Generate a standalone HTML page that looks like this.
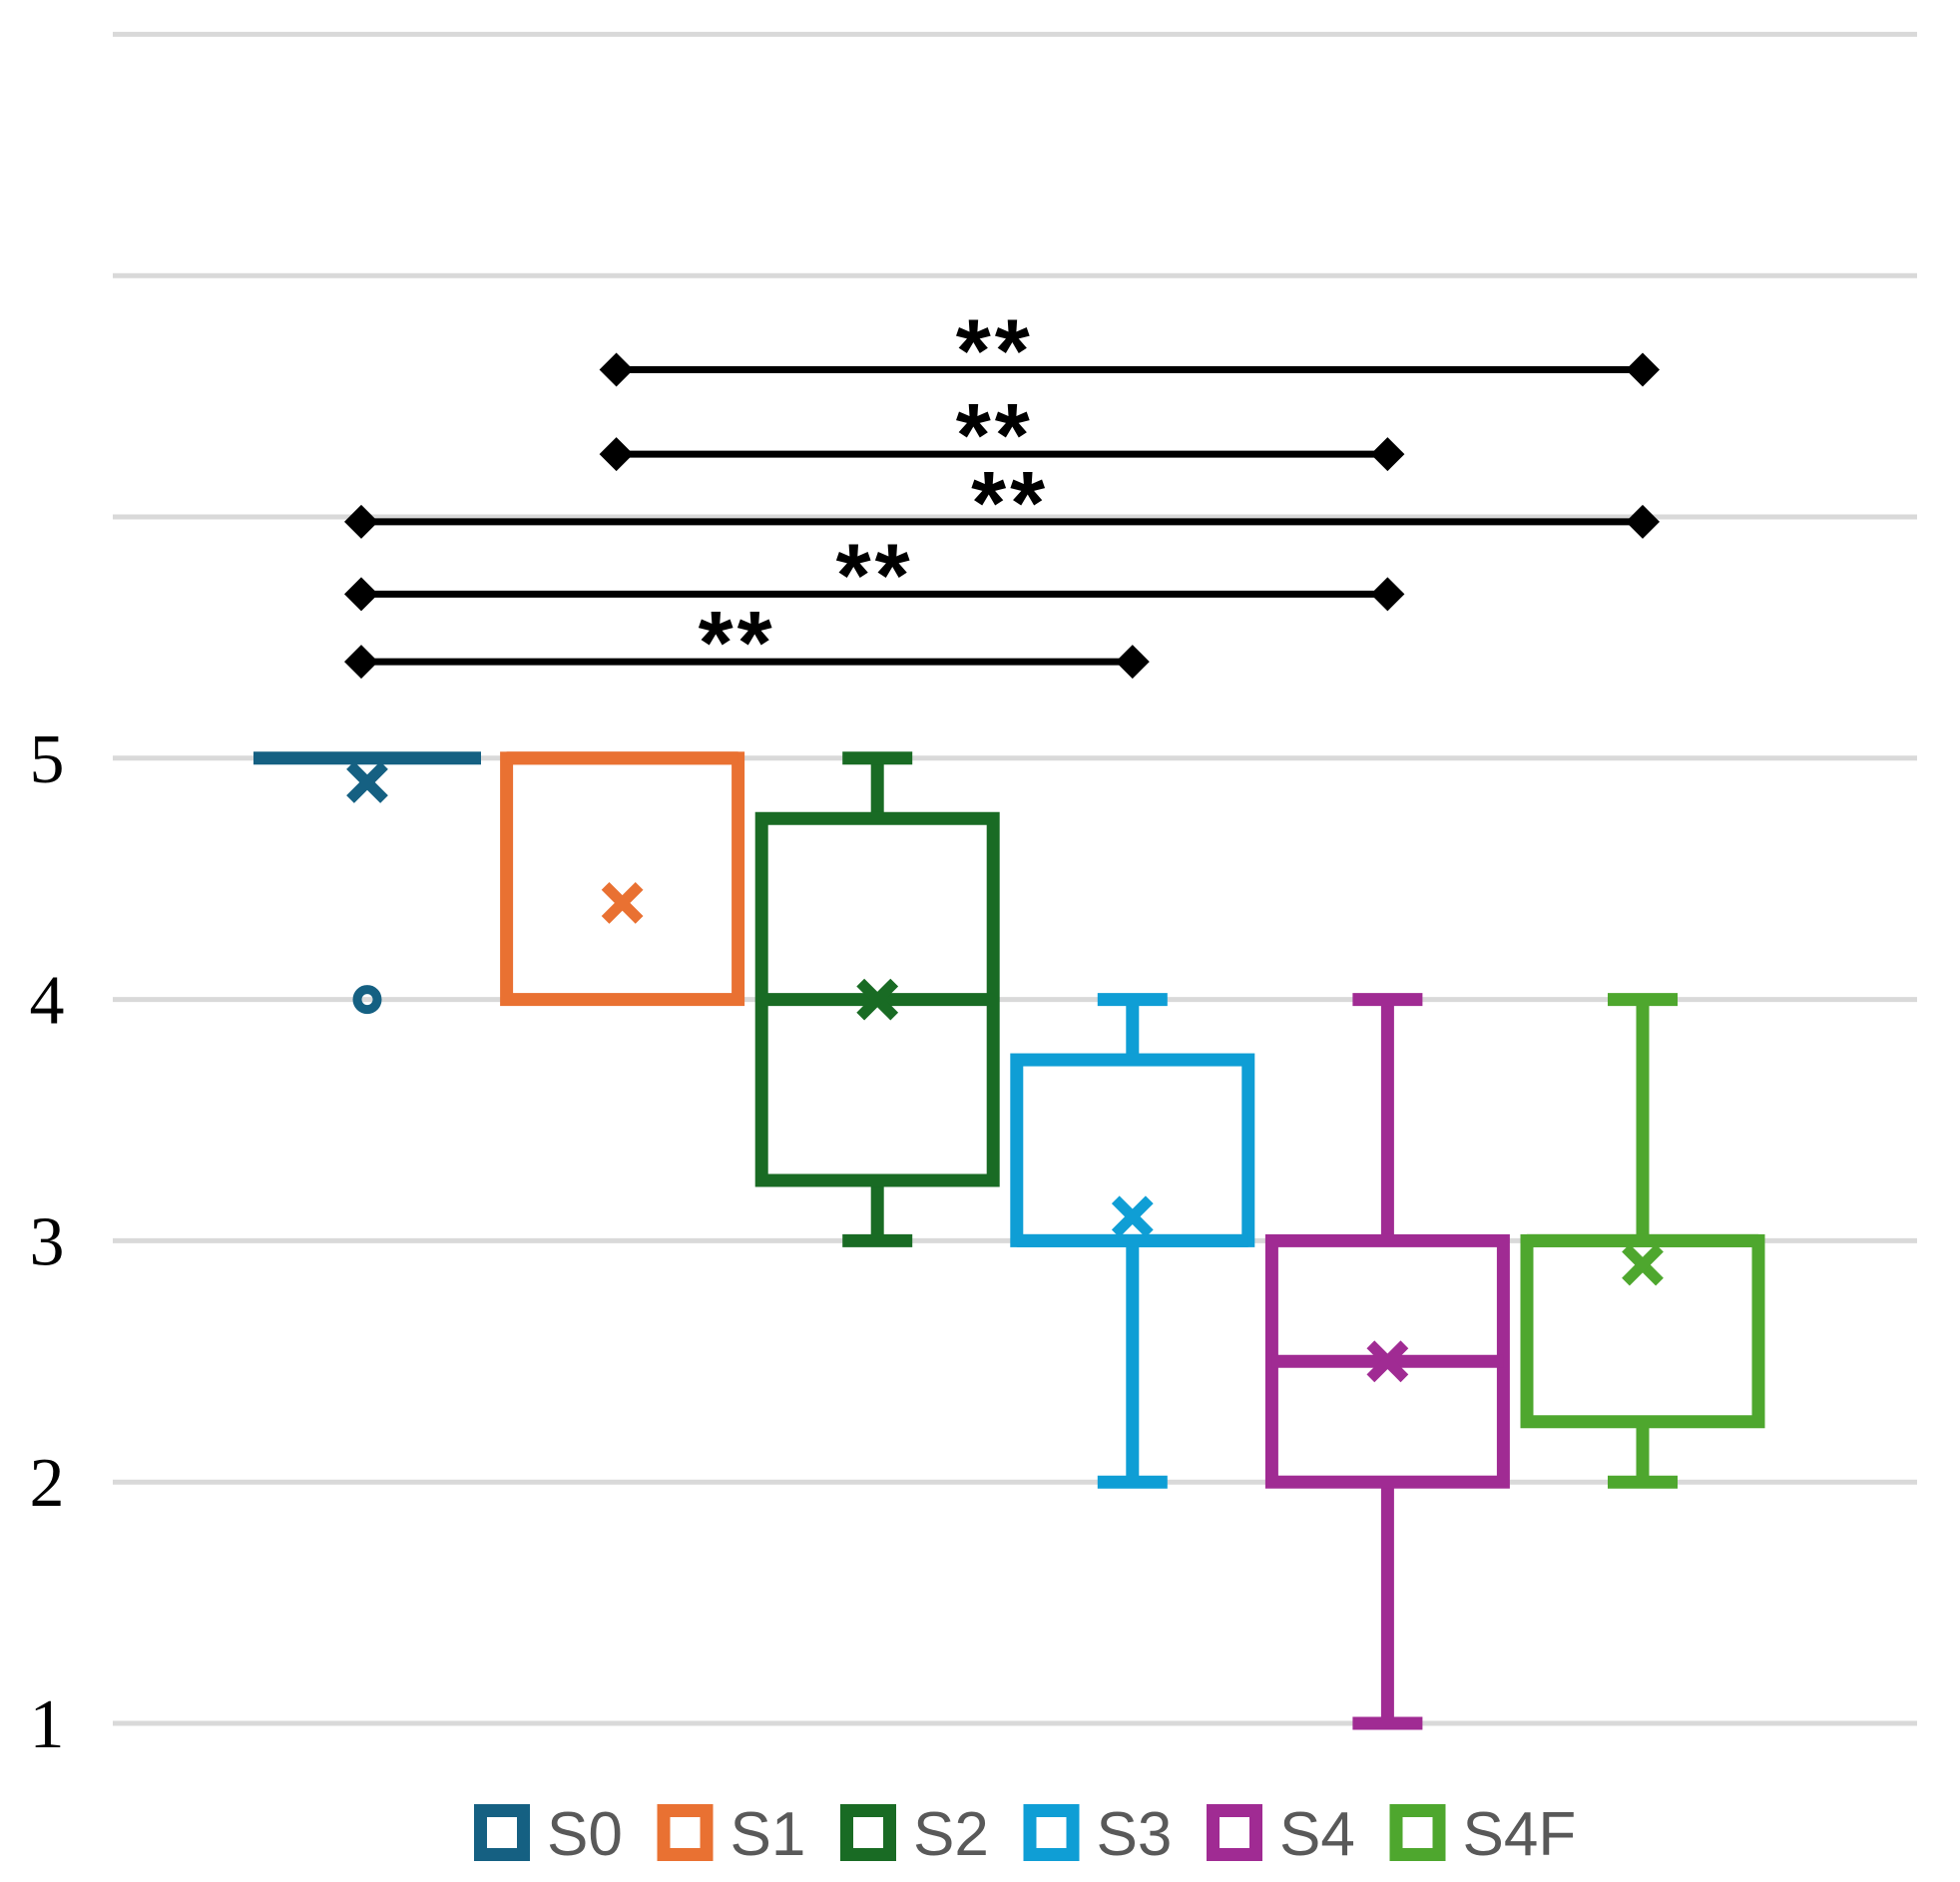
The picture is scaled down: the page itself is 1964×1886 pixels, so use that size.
<!DOCTYPE html>
<html><head><meta charset="utf-8"><style>
html,body{margin:0;padding:0;background:#fff;}
svg{display:block;}
</style></head><body>
<svg id="chart" width="1964" height="1886" viewBox="0 0 1964 1886" xmlns="http://www.w3.org/2000/svg"></svg>
<script>
const categories = ["S0","S1","S2","S3","S4","S4F"];
const colors = ["#156082","#e97132","#196b24","#0f9ed5","#a02b93","#4ea72e"];
const mins = [5,4,3,2,1,2];
const q1s = [5,4,3.25,3,2,2.25];
const medians = [5,5,4,3,2.5,3];
const q3s = [5,5,4.75,3.75,3,3];
const maxs = [5,5,5,4,4,4];
const means = [4.9,4.4,4.0,3.1,2.5,2.9];
const outliers = [[4],[],[],[],[],[]];
const gridValues = [1,2,3,4,5,6,7,8];
const tickLabels = ["1","2","3","4","5"];
const sigFrom = [1,1,0,0,0];
const sigTo = [5,4,5,4,3];
const sigLevel = [6.61,6.26,5.98,5.68,5.40];
const sigStarPos = [2.46,2.46,2.52,1.99,1.45];
const sigLabels = ["**","**","**","**","**"];

const NS="http://www.w3.org/2000/svg";
const svg=document.getElementById('chart');
function y(v){return 1727-(v-1)*241.8;}
function x(i){return 368+i*255.6;}
function mk(tag,attrs,parent){const e=document.createElementNS(NS,tag);for(const k in attrs)e.setAttribute(k,attrs[k]);(parent||svg).appendChild(e);return e;}

const grid=mk('g',{});


gridValues.forEach(v=>{const l=mk('line',{x1:113,x2:1921,y1:y(v),y2:y(v),stroke:'#d9d9d9','stroke-width':5},grid);

});

tickLabels.forEach(t=>{const e=mk('text',{x:47,y:y(+t)+24,'text-anchor':'middle','font-family':'Liberation Serif, serif','font-size':70,fill:'#000'});e.textContent=t;

});

const HW=116, CAP=35, SW=13;
categories.forEach((c,i)=>{
  const g=mk('g',{stroke:colors[i],'stroke-width':SW,fill:'none'});
  
  
  const cx=x(i);
  if(maxs[i]>q3s[i]){mk('line',{x1:cx,x2:cx,y1:y(q3s[i]),y2:y(maxs[i])},g);mk('line',{x1:cx-CAP,x2:cx+CAP,y1:y(maxs[i]),y2:y(maxs[i])},g);}
  if(mins[i]<q1s[i]){mk('line',{x1:cx,x2:cx,y1:y(q1s[i]),y2:y(mins[i])},g);mk('line',{x1:cx-CAP,x2:cx+CAP,y1:y(mins[i]),y2:y(mins[i])},g);}
  if(q3s[i]>q1s[i]){mk('rect',{x:cx-HW,y:y(q3s[i]),width:2*HW,height:y(q1s[i])-y(q3s[i])},g);
    mk('line',{x1:cx-HW,x2:cx+HW,y1:y(medians[i]),y2:y(medians[i])},g);}
  else{mk('line',{x1:cx-114,x2:cx+114,y1:y(q3s[i]),y2:y(q3s[i])},g);}
  const my=y(means[i]);
  const m=mk('g',{'stroke-width':11},g);
  
  
  mk('line',{x1:cx-17,y1:my-17,x2:cx+17,y2:my+17},m);
  mk('line',{x1:cx-17,y1:my+17,x2:cx+17,y2:my-17},m);
  outliers[i].forEach(o=>{const p=mk('circle',{cx:cx,cy:y(o),r:10,'stroke-width':9},g);
    
    });
});

sigFrom.forEach((f,k)=>{
  const g=mk('g',{});
  
  
  const yy=y(sigLevel[k]), x1=x(f)-6, x2=x(sigTo[k]);
  mk('line',{x1:x1,x2:x2,y1:yy,y2:yy,stroke:'#000','stroke-width':7},g);
  [x1,x2].forEach(px=>mk('polygon',{points:`${px-17},${yy} ${px},${yy-17} ${px+17},${yy} ${px},${yy+17}`,fill:'#000'},g));
  const t=mk('text',{x:x(sigStarPos[k]),y:yy+12,'text-anchor':'middle','font-family':'Liberation Sans, sans-serif','font-weight':'bold','font-size':90,'letter-spacing':4,fill:'#000'},g);
  t.textContent=sigLabels[k];
});

const lg=mk('g',{});


categories.forEach((c,i)=>{
  const it=mk('g',{},lg);
  
  
  const lx=475+i*183.5;
  mk('rect',{x:lx+6.5,y:1814.5,width:43,height:44,fill:'none',stroke:colors[i],'stroke-width':13},it);
  const t=mk('text',{x:lx+73,y:1859,'font-family':'Liberation Sans, sans-serif','font-size':62,fill:'#595959'},it);
  t.textContent=c;
});
</script>
</body></html>
